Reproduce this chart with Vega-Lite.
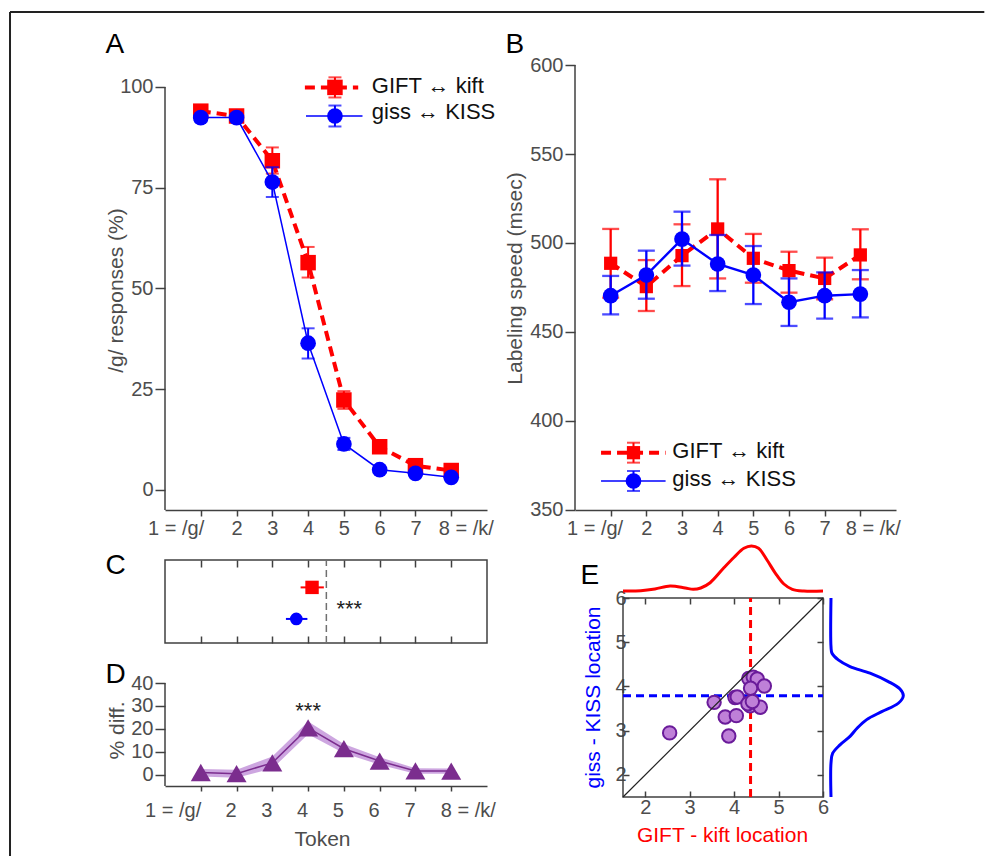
{
  "$schema": "https://vega.github.io/schema/vega-lite/v6.json",
  "padding": {"left": 9, "top": 11, "right": 0, "bottom": 0},
  "autosize": {"type": "pad"},
  "background": "white",
  "config": {
    "font": "Liberation Sans",
    "view": {"stroke": null},
    "axis": {"labelFont": "Liberation Sans", "labelFontSize": 20, "labelColor": "#4d4d4d", "titleFont": "Liberation Sans", "titleFontSize": 21, "titleFontWeight": "normal", "titleColor": "#4d4d4d", "domainColor": "#404040", "tickColor": "#404040", "domainWidth": 1.5, "tickWidth": 1.5, "grid": false, "labelFlush": false, "labelOverlap": false},
    "text": {"font": "Liberation Sans"}
  },
  "bounds": "flush",
  "spacing": 88,
  "hconcat": [
    {
      "width": 322, "height": 721,
      "resolve": {"scale": {"y": "independent"}, "axis": {"x": "independent", "y": "independent"}},
      "layer": [
        {
          "data": {"values": [
            {"token": 1, "series": "GIFT", "m": 94.0, "lo": 93.0, "hi": 95.0},
            {"token": 2, "series": "GIFT", "m": 92.8, "lo": 91.8, "hi": 93.8},
            {"token": 3, "series": "GIFT", "m": 81.7, "lo": 78.5, "hi": 85.0},
            {"token": 4, "series": "GIFT", "m": 56.4, "lo": 52.7, "hi": 60.3},
            {"token": 5, "series": "GIFT", "m": 22.3, "lo": 20.1, "hi": 24.5},
            {"token": 6, "series": "GIFT", "m": 10.7, "lo": 9.5, "hi": 12.0},
            {"token": 7, "series": "GIFT", "m": 6.0, "lo": 5.0, "hi": 7.0},
            {"token": 8, "series": "GIFT", "m": 4.8, "lo": 3.8, "hi": 5.8},
            {"token": 1, "series": "giss", "m": 92.4, "lo": 91.4, "hi": 93.4},
            {"token": 2, "series": "giss", "m": 92.4, "lo": 91.4, "hi": 93.4},
            {"token": 3, "series": "giss", "m": 76.4, "lo": 72.7, "hi": 80.1},
            {"token": 4, "series": "giss", "m": 36.4, "lo": 32.6, "hi": 40.1},
            {"token": 5, "series": "giss", "m": 11.4, "lo": 9.9, "hi": 12.9},
            {"token": 6, "series": "giss", "m": 5.0, "lo": 4.2, "hi": 5.8},
            {"token": 7, "series": "giss", "m": 4.1, "lo": 3.3, "hi": 4.9},
            {"token": 8, "series": "giss", "m": 3.1, "lo": 2.3, "hi": 3.9}
          ]},
          "resolve": {"axis": {"x": "independent", "y": "independent"}},
          "layer": [
            {
              "transform": [{"filter": "datum.series == 'GIFT'"}],
              "mark": {"type": "line", "color": "#ff0000", "strokeWidth": 4, "strokeDash": [10, 6]},
              "encoding": {
                "x": {"field": "token", "type": "quantitative", "scale": {"domain": [0, 9], "nice": false, "zero": false},
                  "axis": {"orient": "bottom", "offset": -276, "values": [1, 2, 3, 4, 5, 6, 7, 8], "tickSize": 6, "labelPadding": 2.5,
                    "labelExpr": "datum.value == 1 ? '1 = /g/' : datum.value == 8 ? '' : datum.label",
                    "labelAlign": {"condition": {"test": "datum.value == 1", "value": "right"}, "value": "center"},
                    "labelOffset": {"condition": {"test": "datum.value == 1", "value": 3}, "value": 0},
                    "title": "A", "titleX": -60, "titleY": -458, "titleAlign": "left", "titleAngle": 0, "titleBaseline": "alphabetic", "titleFontSize": 28, "titleColor": "#000000"}},
                "y": {"field": "m", "type": "quantitative", "scale": {"domain": [-73.511, 105.461], "nice": false, "zero": false},
                  "axis": {"orient": "left", "values": [0, 25, 50, 75, 100], "title": "/g/ responses (%)", "domain": false, "tickSize": 10, "labelPadding": 2, "titleX": -39, "titleY": 225}}
              }
            },
            {
              "data": {"values": [{}]},
              "mark": {"type": "rule", "color": "#404040", "strokeWidth": 1.5},
              "encoding": {
                "x": {"datum": 0, "type": "quantitative",
                  "axis": {"orient": "bottom", "offset": -276, "values": [8], "domain": false, "tickSize": 6, "tickOpacity": 0, "labelPadding": 2.5,
                    "labelExpr": "'8 = /k/'", "labelAlign": "left", "labelOffset": -13, "title": null}},
                "y": {"datum": -5, "type": "quantitative", "axis": null}, "y2": {"datum": 100}}
            },
            {
              "data": {"values": [{}]},
              "mark": {"type": "rule", "color": "#222222", "strokeWidth": 2},
              "encoding": {"x": {"datum": -4.332, "type": "quantitative", "axis": null}, "y": {"datum": 118.617, "type": "quantitative", "axis": null}, "y2": {"datum": -90.887}}
            },
            {
              "data": {"values": [{}]},
              "mark": {"type": "rule", "color": "#222222", "strokeWidth": 2},
              "encoding": {"x": {"datum": -4.332, "type": "quantitative", "axis": null}, "x2": {"datum": 22.9}, "y": {"datum": 118.617, "type": "quantitative", "axis": null}}
            },
            {
              "transform": [{"filter": "datum.series == 'GIFT'"}],
              "mark": {"type": "errorbar", "ticks": {"size": 13, "thickness": 2}, "thickness": 2},
              "encoding": {"x": {"field": "token", "type": "quantitative", "axis": null}, "y": {"field": "lo", "type": "quantitative", "axis": null}, "y2": {"field": "hi"}, "color": {"value": "#ff0000"}}
            },
            {
              "transform": [{"filter": "datum.series == 'GIFT'"}],
              "mark": {"type": "point", "shape": "square", "filled": true, "size": 240, "color": "#ff0000", "opacity": 1},
              "encoding": {"x": {"field": "token", "type": "quantitative", "axis": null}, "y": {"field": "m", "type": "quantitative", "axis": null}}
            },
            {
              "transform": [{"filter": "datum.series == 'giss'"}],
              "mark": {"type": "line", "color": "#0000ff", "strokeWidth": 1.5},
              "encoding": {"x": {"field": "token", "type": "quantitative", "axis": null}, "y": {"field": "m", "type": "quantitative", "axis": null}}
            },
            {
              "transform": [{"filter": "datum.series == 'giss'"}],
              "mark": {"type": "errorbar", "ticks": {"size": 13, "thickness": 2}, "thickness": 2},
              "encoding": {"x": {"field": "token", "type": "quantitative", "axis": null}, "y": {"field": "lo", "type": "quantitative", "axis": null}, "y2": {"field": "hi"}, "color": {"value": "#0000ff"}}
            },
            {
              "transform": [{"filter": "datum.series == 'giss'"}],
              "mark": {"type": "point", "shape": "circle", "filled": true, "size": 246, "color": "#0000ff", "opacity": 1},
              "encoding": {"x": {"field": "token", "type": "quantitative", "axis": null}, "y": {"field": "m", "type": "quantitative", "axis": null}}
            },
            {"data": {"values": [{}]}, "mark": {"type": "rule", "color": "#ff0000", "strokeWidth": 4, "strokeDash": [10, 6]},
              "encoding": {"x": {"datum": 3.91, "type": "quantitative", "axis": null}, "x2": {"datum": 5.4}, "y": {"datum": 99.9, "type": "quantitative", "axis": null}}},
            {"data": {"values": [{}]}, "mark": {"type": "rule", "color": "#ff0000", "strokeWidth": 2},
              "encoding": {"x": {"datum": 4.75, "type": "quantitative", "axis": null}, "y": {"datum": 97.4, "type": "quantitative", "axis": null}, "y2": {"datum": 102.4}}},
            {"data": {"values": [{}]}, "mark": {"type": "tick", "orient": "horizontal", "color": "#ff0000", "size": 13, "thickness": 2},
              "encoding": {"x": {"datum": 4.75, "type": "quantitative", "axis": null}, "y": {"datum": 97.4, "type": "quantitative", "axis": null}}},
            {"data": {"values": [{}]}, "mark": {"type": "tick", "orient": "horizontal", "color": "#ff0000", "size": 13, "thickness": 2},
              "encoding": {"x": {"datum": 4.75, "type": "quantitative", "axis": null}, "y": {"datum": 102.4, "type": "quantitative", "axis": null}}},
            {"data": {"values": [{}]}, "mark": {"type": "point", "shape": "square", "filled": true, "size": 240, "color": "#ff0000", "opacity": 1},
              "encoding": {"x": {"datum": 4.75, "type": "quantitative", "axis": null}, "y": {"datum": 99.9, "type": "quantitative", "axis": null}}},
            {"data": {"values": [{}]}, "mark": {"type": "text", "text": "GIFT ↔ kift", "fontSize": 22, "color": "#111111", "align": "left", "baseline": "middle"},
              "encoding": {"x": {"datum": 5.78, "type": "quantitative", "axis": null}, "y": {"datum": 100.3, "type": "quantitative", "axis": null}}},
            {"data": {"values": [{}]}, "mark": {"type": "rule", "color": "#0000ff", "strokeWidth": 1.5},
              "encoding": {"x": {"datum": 3.94, "type": "quantitative", "axis": null}, "x2": {"datum": 5.52}, "y": {"datum": 92.8, "type": "quantitative", "axis": null}}},
            {"data": {"values": [{}]}, "mark": {"type": "rule", "color": "#0000ff", "strokeWidth": 2},
              "encoding": {"x": {"datum": 4.75, "type": "quantitative", "axis": null}, "y": {"datum": 90.2, "type": "quantitative", "axis": null}, "y2": {"datum": 95.4}}},
            {"data": {"values": [{}]}, "mark": {"type": "tick", "orient": "horizontal", "color": "#0000ff", "size": 13, "thickness": 2},
              "encoding": {"x": {"datum": 4.75, "type": "quantitative", "axis": null}, "y": {"datum": 90.2, "type": "quantitative", "axis": null}}},
            {"data": {"values": [{}]}, "mark": {"type": "tick", "orient": "horizontal", "color": "#0000ff", "size": 13, "thickness": 2},
              "encoding": {"x": {"datum": 4.75, "type": "quantitative", "axis": null}, "y": {"datum": 95.4, "type": "quantitative", "axis": null}}},
            {"data": {"values": [{}]}, "mark": {"type": "point", "shape": "circle", "filled": true, "size": 246, "color": "#0000ff", "opacity": 1},
              "encoding": {"x": {"datum": 4.75, "type": "quantitative", "axis": null}, "y": {"datum": 92.8, "type": "quantitative", "axis": null}}},
            {"data": {"values": [{}]}, "mark": {"type": "text", "text": "giss ↔ KISS", "fontSize": 22, "color": "#111111", "align": "left", "baseline": "middle"},
              "encoding": {"x": {"datum": 5.78, "type": "quantitative", "axis": null}, "y": {"datum": 93.7, "type": "quantitative", "axis": null}}}
          ]
        },
        {
          "data": {"values": [
            {"series": "GIFT", "loc": 4.11, "lo": 3.79, "hi": 4.44},
            {"series": "giss", "loc": 3.67, "lo": 3.38, "hi": 3.98}
          ]},
          "resolve": {"axis": {"x": "independent", "y": "independent"}},
          "layer": [
            {
              "data": {"values": [{}]},
              "mark": {"type": "rect", "filled": false, "stroke": "#404040", "strokeWidth": 1.5},
              "encoding": {
                "x": {"datum": 0, "type": "quantitative",
                  "axis": {"orient": "bottom", "offset": -226, "values": [1, 2, 3, 4, 5, 6, 7, 8], "labels": false, "domain": false, "tickSize": 7,
                    "title": "C", "titleX": -60, "titleY": 13, "titleAlign": "left", "titleAngle": 0, "titleBaseline": "alphabetic", "titleFontSize": 28, "titleColor": "#000000"}},
                "x2": {"datum": 9},
                "y": {"datum": 0, "type": "quantitative", "scale": {"domain": [-1.7229, 6.9639], "nice": false, "zero": false}, "axis": null},
                "y2": {"datum": 1}
              }
            },
            {
              "data": {"values": [{}]},
              "mark": {"type": "rule", "color": "#707070", "strokeWidth": 1.5, "strokeDash": [7, 4]},
              "encoding": {
                "x": {"datum": 4.51, "type": "quantitative",
                  "axis": {"orient": "top", "offset": -578, "values": [1, 2, 3, 4, 5, 6, 7, 8], "labels": false, "domain": false, "tickSize": 7,
                    "title": "D", "titleX": -60, "titleY": 39, "titleAlign": "left", "titleAngle": 0, "titleBaseline": "alphabetic", "titleFontSize": 28, "titleColor": "#000000"}},
                "y": {"datum": 0, "type": "quantitative", "axis": null},
                "y2": {"datum": 1}
              }
            },
            {
              "transform": [{"filter": "datum.series == 'GIFT'"}],
              "mark": {"type": "rule", "color": "#ff0000", "strokeWidth": 2},
              "encoding": {"x": {"field": "lo", "type": "quantitative", "axis": null}, "x2": {"field": "hi"}, "y": {"datum": 0.67, "type": "quantitative", "axis": null}}
            },
            {
              "transform": [{"filter": "datum.series == 'giss'"}],
              "mark": {"type": "rule", "color": "#0000ff", "strokeWidth": 2},
              "encoding": {"x": {"field": "lo", "type": "quantitative", "axis": null}, "x2": {"field": "hi"}, "y": {"datum": 0.29, "type": "quantitative", "axis": null}}
            },
            {
              "transform": [{"filter": "datum.series == 'GIFT'"}],
              "mark": {"type": "point", "shape": "square", "filled": true, "size": 180, "color": "#ff0000", "opacity": 1},
              "encoding": {"x": {"field": "loc", "type": "quantitative", "axis": null}, "y": {"datum": 0.67, "type": "quantitative", "axis": null}}
            },
            {
              "transform": [{"filter": "datum.series == 'giss'"}],
              "mark": {"type": "point", "shape": "circle", "filled": true, "size": 160, "color": "#0000ff", "opacity": 1},
              "encoding": {"x": {"field": "loc", "type": "quantitative", "axis": null}, "y": {"datum": 0.29, "type": "quantitative", "axis": null}}
            },
            {
              "data": {"values": [{}]},
              "mark": {"type": "text", "text": "***", "fontSize": 22, "color": "#222222", "baseline": "middle", "dy": 5},
              "encoding": {"x": {"datum": 5.15, "type": "quantitative", "axis": null}, "y": {"datum": 0.47, "type": "quantitative", "axis": null}}
            }
          ]
        },
        {
          "data": {"values": [
            {"token": 1, "m": 0.9, "lo": -0.8, "hi": 2.4},
            {"token": 2, "m": 0.4, "lo": -1.4, "hi": 2.1},
            {"token": 3, "m": 5.1, "lo": 2.6, "hi": 7.9},
            {"token": 4, "m": 20.4, "lo": 17.6, "hi": 23.2},
            {"token": 5, "m": 11.3, "lo": 9.3, "hi": 13.4},
            {"token": 6, "m": 5.9, "lo": 4.3, "hi": 7.6},
            {"token": 7, "m": 1.6, "lo": 0.4, "hi": 2.8},
            {"token": 8, "m": 1.5, "lo": 0.4, "hi": 2.6}
          ]},
          "resolve": {"axis": {"x": "independent", "y": "independent"}},
          "layer": [
            {
              "mark": {"type": "area", "color": "#c090d8", "opacity": 0.8},
              "encoding": {
                "x": {"field": "token", "type": "quantitative",
                  "axis": {"orient": "bottom", "values": [1, 2, 3, 4, 5, 6, 7, 8], "tickSize": 5, "labelPadding": 9,
                    "labelExpr": "datum.value == 1 ? '1 = /g/' : datum.value == 8 ? '' : datum.label",
                    "labelAlign": {"condition": {"test": "datum.value == 1", "value": "right"}, "value": "center"},
                    "labelOffset": {"condition": {"test": "datum.value == 1", "value": 0}, "value": -6},
                    "title": "Token", "titleX": 157, "titleY": 42}},
                "y": {"field": "lo", "type": "quantitative", "scale": {"domain": [-5, 310], "nice": false, "zero": false},
                  "axis": {"orient": "left", "values": [0, 10, 20, 30, 40], "title": "% diff.", "domain": false, "tickSize": 10, "labelPadding": 2, "titleX": -38, "titleY": 665}},
                "y2": {"field": "hi"}
              }
            },
            {
              "data": {"values": [{}]},
              "mark": {"type": "rule", "color": "#404040", "strokeWidth": 1.5},
              "encoding": {
                "x": {"datum": 0, "type": "quantitative",
                  "axis": {"orient": "bottom", "values": [8], "domain": false, "tickSize": 5, "tickOpacity": 0, "labelPadding": 9,
                    "labelExpr": "'8 = /k/'", "labelAlign": "left", "labelOffset": -11, "title": null}},
                "y": {"datum": -5, "type": "quantitative", "axis": null}, "y2": {"datum": 40}}
            },
            {
              "mark": {"type": "line", "color": "#7b2d8e", "strokeWidth": 1.5},
              "encoding": {"x": {"field": "token", "type": "quantitative", "axis": null}, "y": {"field": "m", "type": "quantitative", "axis": null}}
            },
            {
              "mark": {"type": "point", "shape": "triangle-up", "filled": true, "size": 400, "color": "#7b2d8e", "opacity": 1},
              "encoding": {"x": {"field": "token", "type": "quantitative", "axis": null}, "y": {"field": "m", "type": "quantitative", "axis": null}}
            },
            {
              "data": {"values": [{}]},
              "mark": {"type": "text", "text": "***", "fontSize": 22, "color": "#222222", "baseline": "middle", "dy": 5},
              "encoding": {"x": {"datum": 4, "type": "quantitative", "axis": null}, "y": {"datum": 30, "type": "quantitative", "axis": null}}
            }
          ]
        }
      ]
    },
    {
      "width": 321, "height": 732,
      "resolve": {"scale": {"x": "independent", "y": "independent"}, "axis": {"x": "independent", "y": "independent"}},
      "layer": [
        {
          "data": {"values": [
            {"token": 1, "series": "GIFT", "m": 488.6, "lo": 469.3, "hi": 507.9},
            {"token": 2, "series": "GIFT", "m": 475.5, "lo": 461.8, "hi": 490.4},
            {"token": 3, "series": "GIFT", "m": 492.9, "lo": 475.8, "hi": 510.5},
            {"token": 4, "series": "GIFT", "m": 507.9, "lo": 480.1, "hi": 535.8},
            {"token": 5, "series": "GIFT", "m": 491.4, "lo": 477.7, "hi": 505.1},
            {"token": 6, "series": "GIFT", "m": 484.5, "lo": 472.1, "hi": 495.1},
            {"token": 7, "series": "GIFT", "m": 480.1, "lo": 468.4, "hi": 491.8},
            {"token": 8, "series": "GIFT", "m": 493.3, "lo": 479.6, "hi": 507.7},
            {"token": 1, "series": "giss", "m": 470.4, "lo": 459.9, "hi": 481.5},
            {"token": 2, "series": "giss", "m": 482.0, "lo": 468.7, "hi": 495.7},
            {"token": 3, "series": "giss", "m": 502.2, "lo": 487.3, "hi": 517.6},
            {"token": 4, "series": "giss", "m": 488.2, "lo": 473.0, "hi": 504.5},
            {"token": 5, "series": "giss", "m": 482.0, "lo": 465.7, "hi": 498.3},
            {"token": 6, "series": "giss", "m": 466.7, "lo": 453.4, "hi": 480.1},
            {"token": 7, "series": "giss", "m": 470.4, "lo": 457.5, "hi": 483.5},
            {"token": 8, "series": "giss", "m": 471.3, "lo": 458.2, "hi": 484.8}
          ]},
          "resolve": {"axis": {"x": "independent", "y": "independent"}},
          "layer": [
            {
              "transform": [{"filter": "datum.series == 'GIFT'"}],
              "mark": {"type": "line", "color": "#ff0000", "strokeWidth": 4, "strokeDash": [10, 6]},
              "encoding": {
                "x": {"field": "token", "type": "quantitative", "scale": {"domain": [0, 9], "nice": false, "zero": false},
                  "axis": {"orient": "bottom", "offset": -287, "values": [1, 2, 3, 4, 5, 6, 7, 8], "tickSize": 6, "labelPadding": 2.5,
                    "labelExpr": "datum.value == 1 ? '1 = /g/' : datum.value == 8 ? '' : datum.label",
                    "labelAlign": {"condition": {"test": "datum.value == 1", "value": "right"}, "value": "center"},
                    "labelOffset": {"condition": {"test": "datum.value == 1", "value": 12}, "value": 0},
                    "title": "B", "titleX": -70, "titleY": -458, "titleAlign": "left", "titleAngle": 0, "titleBaseline": "alphabetic", "titleFontSize": 28, "titleColor": "#000000"}},
                "y": {"field": "m", "type": "quantitative", "scale": {"domain": [188.764, 600], "nice": false, "zero": false},
                  "axis": {"orient": "left", "values": [350, 400, 450, 500, 550, 600], "title": "Labeling speed (msec)", "domain": false, "tickSize": 10, "labelPadding": 2, "titleX": -50, "titleY": 213}}
              }
            },
            {
              "data": {"values": [{}]},
              "mark": {"type": "rule", "color": "#404040", "strokeWidth": 1.5},
              "encoding": {
                "x": {"datum": 0, "type": "quantitative",
                  "axis": {"orient": "bottom", "offset": -287, "values": [8], "domain": false, "tickSize": 6, "tickOpacity": 0, "labelPadding": 2.5,
                    "labelExpr": "'8 = /k/'", "labelAlign": "left", "labelOffset": -15, "title": null}},
                "y": {"datum": 350, "type": "quantitative", "axis": null}, "y2": {"datum": 600}}
            },
            {
              "transform": [{"filter": "datum.series == 'GIFT'"}],
              "mark": {"type": "errorbar", "ticks": {"size": 17, "thickness": 2.3}, "thickness": 2.3},
              "encoding": {"x": {"field": "token", "type": "quantitative", "axis": null}, "y": {"field": "lo", "type": "quantitative", "axis": null}, "y2": {"field": "hi"}, "color": {"value": "#ff0000"}}
            },
            {
              "transform": [{"filter": "datum.series == 'GIFT'"}],
              "mark": {"type": "point", "shape": "square", "filled": true, "size": 175, "color": "#ff0000", "opacity": 1},
              "encoding": {"x": {"field": "token", "type": "quantitative", "axis": null}, "y": {"field": "m", "type": "quantitative", "axis": null}}
            },
            {
              "transform": [{"filter": "datum.series == 'giss'"}],
              "mark": {"type": "line", "color": "#0000ff", "strokeWidth": 2.4},
              "encoding": {"x": {"field": "token", "type": "quantitative", "axis": null}, "y": {"field": "m", "type": "quantitative", "axis": null}}
            },
            {
              "transform": [{"filter": "datum.series == 'giss'"}],
              "mark": {"type": "errorbar", "ticks": {"size": 17, "thickness": 2.3}, "thickness": 2.3},
              "encoding": {"x": {"field": "token", "type": "quantitative", "axis": null}, "y": {"field": "lo", "type": "quantitative", "axis": null}, "y2": {"field": "hi"}, "color": {"value": "#0000ff"}}
            },
            {
              "transform": [{"filter": "datum.series == 'giss'"}],
              "mark": {"type": "point", "shape": "circle", "filled": true, "size": 246, "color": "#0000ff", "opacity": 1},
              "encoding": {"x": {"field": "token", "type": "quantitative", "axis": null}, "y": {"field": "m", "type": "quantitative", "axis": null}}
            },
            {"data": {"values": [{}]}, "mark": {"type": "rule", "color": "#ff0000", "strokeWidth": 4, "strokeDash": [10, 6]},
              "encoding": {"x": {"datum": 0.73, "type": "quantitative", "axis": null}, "x2": {"datum": 2.54}, "y": {"datum": 382.2, "type": "quantitative", "axis": null}}},
            {"data": {"values": [{}]}, "mark": {"type": "rule", "color": "#ff0000", "strokeWidth": 2},
              "encoding": {"x": {"datum": 1.64, "type": "quantitative", "axis": null}, "y": {"datum": 376.6, "type": "quantitative", "axis": null}, "y2": {"datum": 387.8}}},
            {"data": {"values": [{}]}, "mark": {"type": "tick", "orient": "horizontal", "color": "#ff0000", "size": 13, "thickness": 2},
              "encoding": {"x": {"datum": 1.64, "type": "quantitative", "axis": null}, "y": {"datum": 376.6, "type": "quantitative", "axis": null}}},
            {"data": {"values": [{}]}, "mark": {"type": "tick", "orient": "horizontal", "color": "#ff0000", "size": 13, "thickness": 2},
              "encoding": {"x": {"datum": 1.64, "type": "quantitative", "axis": null}, "y": {"datum": 387.8, "type": "quantitative", "axis": null}}},
            {"data": {"values": [{}]}, "mark": {"type": "point", "shape": "square", "filled": true, "size": 175, "color": "#ff0000", "opacity": 1},
              "encoding": {"x": {"datum": 1.64, "type": "quantitative", "axis": null}, "y": {"datum": 382.2, "type": "quantitative", "axis": null}}},
            {"data": {"values": [{}]}, "mark": {"type": "text", "text": "GIFT ↔ kift", "fontSize": 22, "color": "#111111", "align": "left", "baseline": "middle"},
              "encoding": {"x": {"datum": 2.73, "type": "quantitative", "axis": null}, "y": {"datum": 383.1, "type": "quantitative", "axis": null}}},
            {"data": {"values": [{}]}, "mark": {"type": "rule", "color": "#0000ff", "strokeWidth": 1.5},
              "encoding": {"x": {"datum": 0.73, "type": "quantitative", "axis": null}, "x2": {"datum": 2.54}, "y": {"datum": 366.3, "type": "quantitative", "axis": null}}},
            {"data": {"values": [{}]}, "mark": {"type": "rule", "color": "#0000ff", "strokeWidth": 2},
              "encoding": {"x": {"datum": 1.64, "type": "quantitative", "axis": null}, "y": {"datum": 360.7, "type": "quantitative", "axis": null}, "y2": {"datum": 371.9}}},
            {"data": {"values": [{}]}, "mark": {"type": "tick", "orient": "horizontal", "color": "#0000ff", "size": 13, "thickness": 2},
              "encoding": {"x": {"datum": 1.64, "type": "quantitative", "axis": null}, "y": {"datum": 360.7, "type": "quantitative", "axis": null}}},
            {"data": {"values": [{}]}, "mark": {"type": "tick", "orient": "horizontal", "color": "#0000ff", "size": 13, "thickness": 2},
              "encoding": {"x": {"datum": 1.64, "type": "quantitative", "axis": null}, "y": {"datum": 371.9, "type": "quantitative", "axis": null}}},
            {"data": {"values": [{}]}, "mark": {"type": "point", "shape": "circle", "filled": true, "size": 246, "color": "#0000ff", "opacity": 1},
              "encoding": {"x": {"datum": 1.64, "type": "quantitative", "axis": null}, "y": {"datum": 366.3, "type": "quantitative", "axis": null}}},
            {"data": {"values": [{}]}, "mark": {"type": "text", "text": "giss ↔ KISS", "fontSize": 22, "color": "#111111", "align": "left", "baseline": "middle"},
              "encoding": {"x": {"datum": 2.73, "type": "quantitative", "axis": null}, "y": {"datum": 367.4, "type": "quantitative", "axis": null}}}
          ]
        },
        {
          "resolve": {"axis": {"x": "independent", "y": "independent"}},
          "layer": [
            {
              "data": {"values": [{}]},
              "mark": {"type": "rect", "filled": false, "stroke": "#404040", "strokeWidth": 1.5},
              "encoding": {
                "x": {"datum": 1.5, "type": "quantitative", "scale": {"domain": [0.42, 7.6425], "nice": false, "zero": false}, "axis": null},
                "x2": {"datum": 6},
                "y": {"datum": 1.5, "type": "quantitative", "scale": {"domain": [1.5, 18.053], "nice": false, "zero": false}, "axis": null},
                "y2": {"datum": 6}
              }
            },
            {
              "data": {"values": [{}]},
              "mark": {"type": "rule", "color": "#ff0000", "strokeWidth": 3, "strokeDash": [8, 5]},
              "encoding": {
                "x": {"datum": 4.37, "type": "quantitative",
                  "axis": {"orient": "top", "offset": -533, "values": [2, 3, 4, 5, 6], "labels": false, "domain": false, "tickSize": -6,
                    "title": "E", "titleX": 5, "titleY": -15, "titleAlign": "left", "titleAngle": 0, "titleBaseline": "alphabetic", "titleFontSize": 28, "titleColor": "#000000"}},
                "y": {"datum": 1.5, "type": "quantitative", "axis": null},
                "y2": {"datum": 6}
              }
            },
            {
              "data": {"values": [{}]},
              "mark": {"type": "rule", "color": "#0000ff", "strokeWidth": 3, "strokeDash": [8, 5]},
              "encoding": {
                "y": {"datum": 3.79, "type": "quantitative",
                  "axis": {"orient": "right", "offset": -73, "values": [2, 3, 4, 5, 6], "labels": false, "domain": false, "tickSize": -6, "title": null}},
                "x": {"datum": 1.5, "type": "quantitative", "axis": null},
                "x2": {"datum": 6}
              }
            },
            {
              "data": {"values": [
                {"gift": 2.55, "giss": 2.95},
                {"gift": 3.55, "giss": 3.64},
                {"gift": 3.8, "giss": 3.31},
                {"gift": 4.05, "giss": 3.34},
                {"gift": 3.88, "giss": 2.88},
                {"gift": 4.02, "giss": 3.75},
                {"gift": 4.07, "giss": 3.76},
                {"gift": 4.33, "giss": 4.18},
                {"gift": 4.43, "giss": 4.21},
                {"gift": 4.52, "giss": 4.17},
                {"gift": 4.68, "giss": 4.01},
                {"gift": 4.37, "giss": 3.96},
                {"gift": 4.36, "giss": 3.56},
                {"gift": 4.31, "giss": 3.61},
                {"gift": 4.59, "giss": 3.53},
                {"gift": 4.41, "giss": 3.66}
              ]},
              "mark": {"type": "point", "shape": "circle", "filled": true, "size": 180, "fill": "#bf80d8", "stroke": "#6a1b9a", "strokeWidth": 2, "opacity": 1, "fillOpacity": 1},
              "encoding": {
                "x": {"field": "gift", "type": "quantitative",
                  "axis": {"orient": "bottom", "values": [2, 3, 4, 5, 6], "title": "GIFT - kift location", "titleColor": "#ff0000", "titleX": 147, "titleY": 27, "domain": false, "tickSize": -6, "labelPadding": 6}},
                "y": {"field": "giss", "type": "quantitative",
                  "axis": {"orient": "left", "offset": -48, "values": [2, 3, 4, 5, 6], "title": "giss - KISS location", "titleColor": "#0000ff", "titleX": -20, "titleY": 632, "domain": false, "tickSize": -6, "labelPadding": 3}}
              }
            },
            {
              "data": {"values": [{}]},
              "mark": {"type": "rule", "color": "#222222", "strokeWidth": 1.2},
              "encoding": {"x": {"datum": 1.5, "type": "quantitative", "axis": null}, "y": {"datum": 1.5, "type": "quantitative", "axis": null}, "x2": {"datum": 6}, "y2": {"datum": 6}}
            }
          ]
        },
        {
          "data": {"values": [
            {"pos": 1.5, "density": 0},
            {"pos": 1.9, "density": 0.005},
            {"pos": 2.22, "density": 0.04},
            {"pos": 2.56, "density": 0.1},
            {"pos": 2.9, "density": 0.06},
            {"pos": 3.08, "density": 0.034},
            {"pos": 3.25, "density": 0.06},
            {"pos": 3.46, "density": 0.166},
            {"pos": 3.76, "density": 0.454},
            {"pos": 4.0, "density": 0.674},
            {"pos": 4.22, "density": 0.854},
            {"pos": 4.39, "density": 0.9},
            {"pos": 4.55, "density": 0.854},
            {"pos": 4.74, "density": 0.62},
            {"pos": 4.93, "density": 0.354},
            {"pos": 5.12, "density": 0.14},
            {"pos": 5.31, "density": 0.034},
            {"pos": 5.57, "density": 0},
            {"pos": 6.0, "density": 0}
          ]},
          "mark": {"type": "line", "color": "#ff0000", "strokeWidth": 3, "interpolate": "catmull-rom"},
          "encoding": {
            "x": {"field": "pos", "type": "quantitative", "scale": {"domain": [0.42, 7.6425], "nice": false, "zero": false}, "axis": null},
            "y": {"field": "density", "type": "quantitative", "scale": {"domain": [-4.12, 10.52], "nice": false, "zero": false}, "axis": null}
          }
        },
        {
          "data": {"values": [
            {"pos": 6.0, "density": 0},
            {"pos": 4.9, "density": 0},
            {"pos": 4.75, "density": 0.02},
            {"pos": 4.6, "density": 0.146},
            {"pos": 4.45, "density": 0.38},
            {"pos": 4.3, "density": 0.78},
            {"pos": 4.11, "density": 1.146},
            {"pos": 3.94, "density": 1.38},
            {"pos": 3.79, "density": 1.446},
            {"pos": 3.62, "density": 1.346},
            {"pos": 3.43, "density": 1.014},
            {"pos": 3.25, "density": 0.714},
            {"pos": 3.06, "density": 0.526},
            {"pos": 2.87, "density": 0.38},
            {"pos": 2.68, "density": 0.18},
            {"pos": 2.49, "density": 0.034},
            {"pos": 2.27, "density": 0},
            {"pos": 1.5, "density": 0}
          ]},
          "mark": {"type": "line", "color": "#0000ff", "strokeWidth": 3, "interpolate": "catmull-rom"},
          "encoding": {
            "x": {"field": "density", "type": "quantitative", "scale": {"domain": [-5.12, 1.3], "nice": false, "zero": false}, "axis": null},
            "y": {"field": "pos", "type": "quantitative", "scale": {"domain": [1.5, 18.053], "nice": false, "zero": false}, "axis": null},
            "order": {"field": "pos", "type": "quantitative"}
          }
        }
      ]
    }
  ]
}
